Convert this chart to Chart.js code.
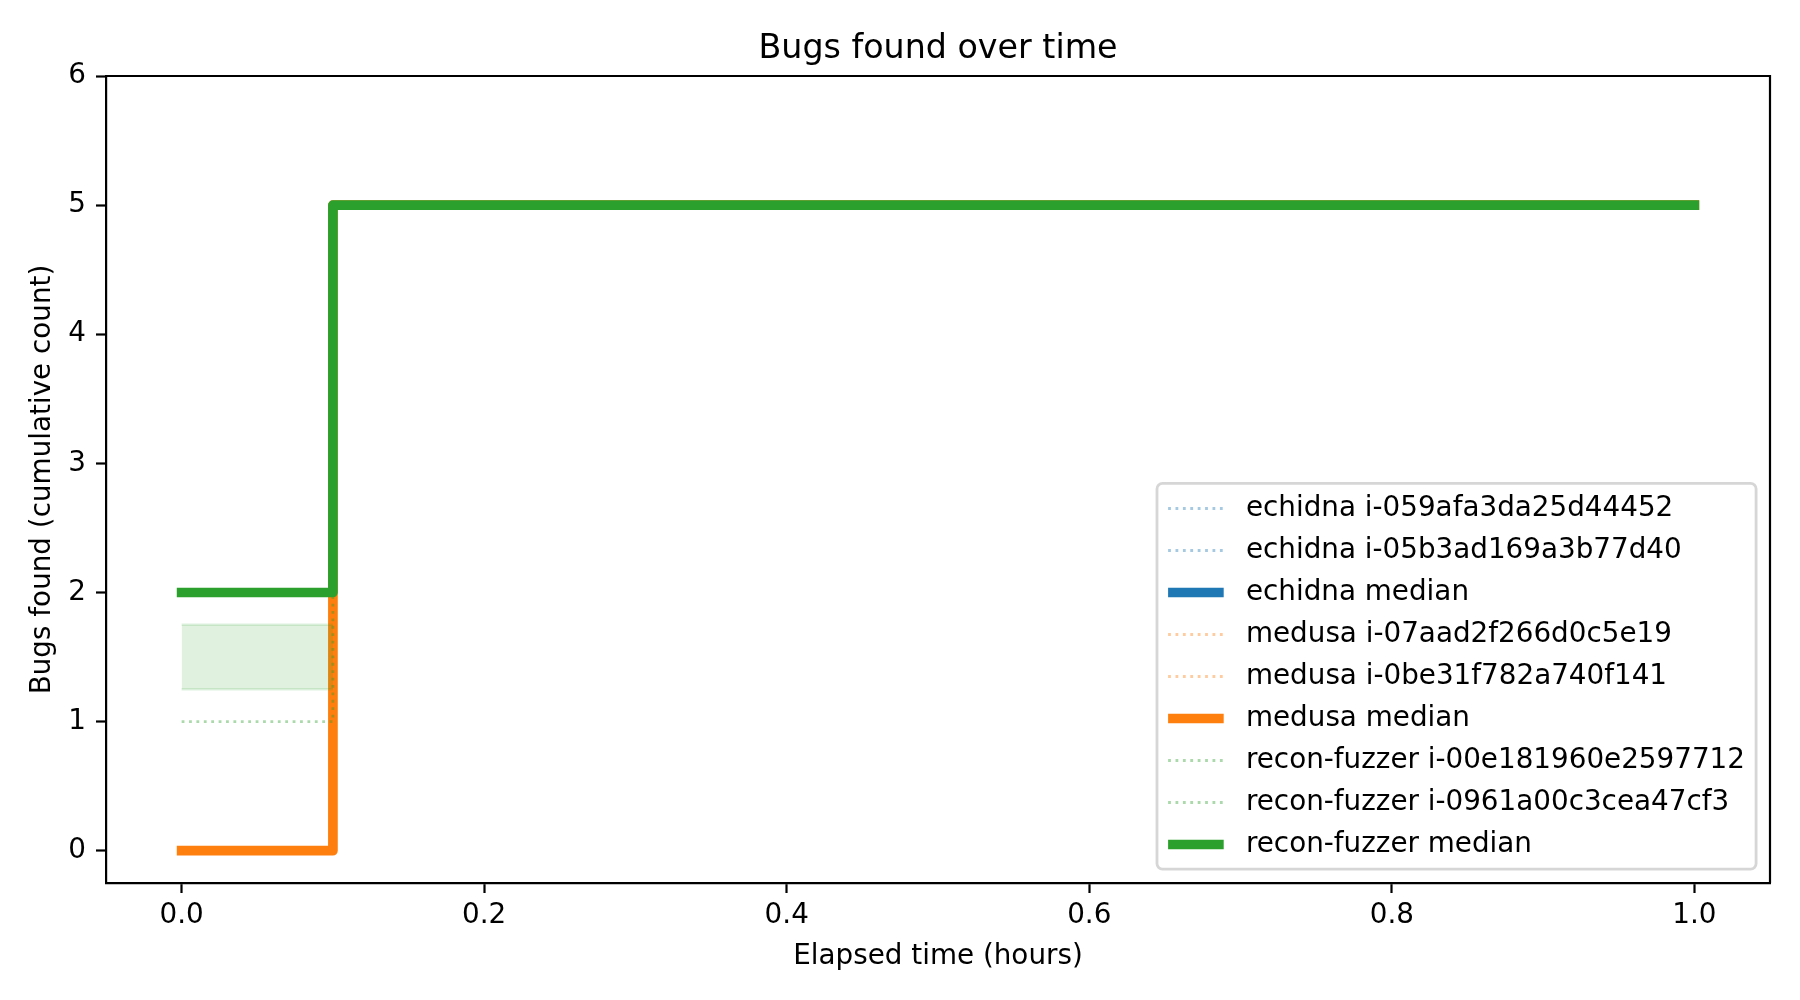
<!DOCTYPE html>
<html>
<head>
<meta charset="utf-8">
<script src="https://cdn.jsdelivr.net/npm/chart.js@4.4.1/dist/chart.umd.min.js"></script>
<style>
html,body{margin:0;padding:0;background:#ffffff;}
#wrap{width:1800px;height:1000px;position:relative;}
</style>
</head>
<body>
<div id="wrap"><canvas id="c" width="1800" height="1000"></canvas></div>
<script>
// ---------- text ----------
const chartTitle = 'Bugs found over time';
const xAxisLabel = 'Elapsed time (hours)';
const yAxisLabel = 'Bugs found (cumulative count)';
const xTickValues = [0.0, 0.2, 0.4, 0.6, 0.8, 1.0];
const yTickValues = [0, 1, 2, 3, 4, 5, 6];

// ---------- series (step-post: value holds from each time until the next) ----------
const echidnaRun1Label = 'echidna i-059afa3da25d44452';
const echidnaRun1Times = [];
const echidnaRun1Bugs = [];
const echidnaRun2Label = 'echidna i-05b3ad169a3b77d40';
const echidnaRun2Times = [];
const echidnaRun2Bugs = [];
const echidnaMedianLabel = 'echidna median';
const echidnaMedianTimes = [];
const echidnaMedianBugs = [];

const medusaRun1Label = 'medusa i-07aad2f266d0c5e19';
const medusaRun1Times = [0.0, 0.1, 1.0];
const medusaRun1Bugs = [0, 5, 5];
const medusaRun2Label = 'medusa i-0be31f782a740f141';
const medusaRun2Times = [0.0, 0.1, 1.0];
const medusaRun2Bugs = [0, 5, 5];
const medusaMedianLabel = 'medusa median';
const medusaMedianTimes = [0.0, 0.1, 1.0];
const medusaMedianBugs = [0, 5, 5];

const reconRun1Label = 'recon-fuzzer i-00e181960e2597712';
const reconRun1Times = [0.0, 0.1, 1.0];
const reconRun1Bugs = [1, 5, 5];
const reconRun2Label = 'recon-fuzzer i-0961a00c3cea47cf3';
const reconRun2Times = [0.0, 0.1, 1.0];
const reconRun2Bugs = [2, 5, 5];
const reconMedianLabel = 'recon-fuzzer median';
const reconMedianTimes = [0.0, 0.1, 1.0];
const reconMedianBugs = [2, 5, 5];

const reconBandTimes = [0.0, 0.1];
const reconBandLow = [1.25, 1.25];
const reconBandHigh = [1.75, 1.75];

// ---------- styling ----------
const BLUE = '31,119,180', ORANGE = '255,127,14', GREEN = '44,160,44';
const FONT = '"DejaVu Sans", "Liberation Sans", sans-serif';
const FS = 27.8;          // 10pt @ 200dpi
const TITLE_FS = 33.3;    // 12pt @ 200dpi
const MEDIAN_W = 9.7;
const RUN_W = 2.8;
const RUN_DASH = [2.8, 4.6];

function pts(times, vals) { return times.map((t, i) => ({ x: t, y: vals[i] })); }

function runDs(label, times, vals, rgb) {
  return { label, data: pts(times, vals), stepped: true, borderColor: `rgba(${rgb},0.4)`,
    borderWidth: RUN_W, borderDash: RUN_DASH, borderCapStyle: 'butt', borderJoinStyle: 'round',
    pointRadius: 0, fill: false, inLegend: true };
}
function medDs(label, times, vals, rgb) {
  return { label, data: pts(times, vals), stepped: true, borderColor: `rgb(${rgb})`,
    borderWidth: MEDIAN_W, borderCapStyle: 'square', borderJoinStyle: 'round',
    pointRadius: 0, fill: false, inLegend: true };
}

const datasets = [
  runDs(echidnaRun1Label, echidnaRun1Times, echidnaRun1Bugs, BLUE),
  runDs(echidnaRun2Label, echidnaRun2Times, echidnaRun2Bugs, BLUE),
  medDs(echidnaMedianLabel, echidnaMedianTimes, echidnaMedianBugs, BLUE),
  runDs(medusaRun1Label, medusaRun1Times, medusaRun1Bugs, ORANGE),
  runDs(medusaRun2Label, medusaRun2Times, medusaRun2Bugs, ORANGE),
  medDs(medusaMedianLabel, medusaMedianTimes, medusaMedianBugs, ORANGE),
  { label: 'band low', data: pts(reconBandTimes, reconBandLow), borderColor: `rgba(${GREEN},0.15)`,
    borderWidth: 2.5, pointRadius: 0, fill: false, inLegend: false },
  { label: 'band high', data: pts(reconBandTimes, reconBandHigh), borderColor: `rgba(${GREEN},0.15)`,
    backgroundColor: `rgba(${GREEN},0.15)`, borderWidth: 2.5, pointRadius: 0, fill: '-1', inLegend: false },
  runDs(reconRun1Label, reconRun1Times, reconRun1Bugs, GREEN),
  runDs(reconRun2Label, reconRun2Times, reconRun2Bugs, GREEN),
  medDs(reconMedianLabel, reconMedianTimes, reconMedianBugs, GREEN),
];
// later datasets drawn on top
datasets.forEach((d, i) => { d.order = datasets.length - i; });

const mplPlugin = {
  id: 'mplDecor',
  afterDatasetsDraw(chart) {
    const { ctx, chartArea: a } = chart;
    ctx.save();
    ctx.strokeStyle = '#000';
    ctx.lineWidth = 2.2;
    ctx.beginPath();
    ctx.moveTo(a.left, a.top); ctx.lineTo(a.right, a.top); ctx.lineTo(a.right, a.bottom);
    ctx.stroke();
    ctx.restore();
  },
  afterDraw(chart) {
    const { ctx, chartArea: a } = chart;
    ctx.save();
    // title
    ctx.font = `${TITLE_FS}px ${FONT}`;
    ctx.fillStyle = '#000';
    ctx.textAlign = 'center';
    ctx.textBaseline = 'alphabetic';
    ctx.fillText(chartTitle, (a.left + a.right) / 2, 57.5);

    // legend
    const items = chart.data.datasets.filter(d => d.inLegend);
    ctx.font = `${FS}px ${FONT}`;
    const maxW = Math.max(...items.map(d => ctx.measureText(d.label).width));
    const pad = 0.4 * FS, hl = 2 * FS, htp = 0.8 * FS, ls = 0.5 * FS, bap = 0.5 * FS;
    const rowStep = FS + 14.2;
    const w = pad + hl + htp + maxW + pad;
    const h = 2 * pad + items.length * FS + (items.length - 1) * ls + 2;
    const x0 = a.right - bap - w, y0 = a.bottom - bap - h;
    const r = 0.2 * FS;
    ctx.beginPath();
    ctx.moveTo(x0 + r, y0);
    ctx.arcTo(x0 + w, y0, x0 + w, y0 + h, r);
    ctx.arcTo(x0 + w, y0 + h, x0, y0 + h, r);
    ctx.arcTo(x0, y0 + h, x0, y0, r);
    ctx.arcTo(x0, y0, x0 + w, y0, r);
    ctx.closePath();
    ctx.fillStyle = 'rgba(255,255,255,0.8)';
    ctx.fill();
    ctx.strokeStyle = 'rgba(204,204,204,0.8)';
    ctx.lineWidth = 2.8;
    ctx.stroke();

    items.forEach((d, i) => {
      const cy = y0 + pad + FS / 2 + i * rowStep;
      ctx.save();
      ctx.strokeStyle = d.borderColor;
      ctx.lineWidth = d.borderWidth;
      ctx.lineCap = 'butt';
      ctx.setLineDash(d.borderDash || []);
      ctx.beginPath();
      ctx.moveTo(x0 + pad, cy);
      ctx.lineTo(x0 + pad + hl, cy);
      ctx.stroke();
      ctx.restore();
      ctx.fillStyle = '#000';
      ctx.textAlign = 'left';
      ctx.textBaseline = 'middle';
      ctx.fillText(d.label, x0 + pad + hl + htp, cy);
    });
    ctx.restore();
  }
};

new Chart(document.getElementById('c'), {
  type: 'line',
  data: { datasets },
  options: {
    responsive: false,
    devicePixelRatio: 1,
    animation: false,
    events: [],
    layout: { padding: { top: 76, right: 30, left: 0, bottom: 0 } },
    plugins: { legend: { display: false }, title: { display: false }, tooltip: { enabled: false } },
    scales: {
      x: {
        type: 'linear', min: -0.05, max: 1.05,
        afterBuildTicks: s => { s.ticks = xTickValues.map(v => ({ value: v })); },
        afterFit: s => { s.height = 117; },
        ticks: { callback: v => Number(v).toFixed(1), color: '#000', font: { family: FONT, size: FS },
          padding: 6, maxRotation: 0, autoSkip: false },
        grid: { display: true, drawOnChartArea: false, drawTicks: true, tickLength: 10, tickWidth: 2.2, tickColor: '#000' },
        border: { display: true, color: '#000', width: 2.2 },
        title: { display: true, text: xAxisLabel, color: '#000', font: { family: FONT, size: FS },
          padding: { top: 0, bottom: 27 } }
      },
      y: {
        type: 'linear', min: -0.25, max: 6,
        afterBuildTicks: s => { s.ticks = yTickValues.map(v => ({ value: v })); },
        afterFit: s => { s.width = 106; },
        ticks: { callback: v => String(v), color: '#000', font: { family: FONT, size: FS },
          padding: 10, autoSkip: false },
        grid: { display: true, drawOnChartArea: false, drawTicks: true, tickLength: 10, tickWidth: 2.2, tickColor: '#000' },
        border: { display: true, color: '#000', width: 2.2 },
        title: { display: true, text: yAxisLabel, color: '#000', font: { family: FONT, size: FS },
          padding: { top: 26, bottom: 0 } }
      }
    }
  },
  plugins: [mplPlugin]
});
</script>
</body>
</html>
